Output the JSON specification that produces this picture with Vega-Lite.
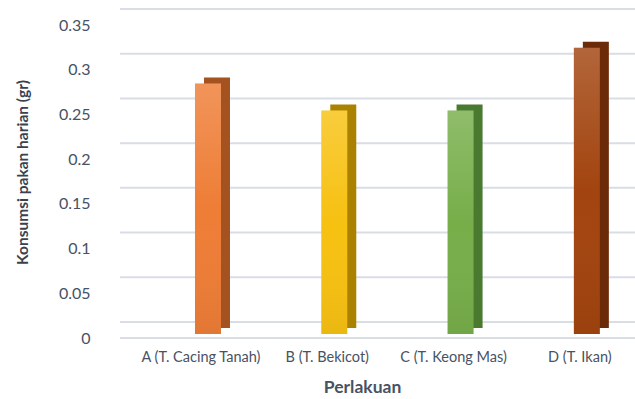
{
  "$schema": "https://vega.github.io/schema/vega-lite/v6.json",
  "width": 515,
  "height": 313,
  "autosize": "none",
  "padding": {"left": 120, "top": 21, "right": 0, "bottom": 65},
  "background": "white",
  "config": {"view": {"stroke": null}, "font": "Lato"},
  "datasets": {
    "bars": [
      {"perlakuan": "A (T. Cacing  Tanah)", "konsumsi": 0.28},
      {"perlakuan": "B (T. Bekicot)", "konsumsi": 0.25},
      {"perlakuan": "C (T. Keong Mas)", "konsumsi": 0.25},
      {"perlakuan": "D (T. Ikan)", "konsumsi": 0.32}
    ],
    "grid": [
      {"v": 0}, {"v": 0.05}, {"v": 0.1}, {"v": 0.15}, {"v": 0.2}, {"v": 0.25}, {"v": 0.3}, {"v": 0.35}
    ]
  },
  "layer": [
    {
      "data": {"name": "grid"},
      "mark": {"type": "rule", "color": "#D9DDE5", "strokeWidth": 2, "yOffset": -12},
      "encoding": {
        "y": {"field": "v", "type": "quantitative", "scale": {"domain": [0, 0.35]}}
      }
    },
    {
      "data": {"name": "grid"},
      "transform": [{"filter": "datum.v == 0"}],
      "mark": {"type": "rule", "color": "#D9DDE5", "strokeWidth": 2, "yOffset": 4},
      "encoding": {
        "y": {"field": "v", "type": "quantitative"}
      }
    },
    {
      "data": {"name": "bars"},
      "mark": {"type": "bar", "width": 26, "xOffset": 16, "yOffset": -6},
      "encoding": {
        "x": {"field": "perlakuan", "type": "nominal", "sort": null,
          "scale": {"paddingInner": 0.5, "paddingOuter": 0.289, "align": 0.677}},
        "y": {"field": "konsumsi", "type": "quantitative"},
        "color": {"field": "perlakuan", "type": "nominal", "legend": null,
          "scale": {"range": ["#A4521F", "#AB8200", "#4A7A30", "#6B2A08"]}}
      }
    },
    {
      "data": {"name": "bars"},
      "mark": {"type": "bar", "width": 26, "xOffset": 7},
      "encoding": {
        "x": {"field": "perlakuan", "type": "nominal", "sort": null,
          "axis": {"title": "Perlakuan", "labelAngle": 0, "labelAlign": "center", "labelBaseline": "top", "ticks": false, "domain": false,
            "labelPadding": 16, "labelFontSize": 14.5, "labelColor": "#475264",
            "titleFontSize": 17.5, "titleFontWeight": "bold", "titleColor": "#475264", "titlePadding": 15, "titleX": 242}},
        "y": {"field": "konsumsi", "type": "quantitative", "scale": {"domain": [0, 0.35]},
          "axis": {"title": "Konsumsi pakan harian (gr)", "values": [0, 0.05, 0.1, 0.15, 0.2, 0.25, 0.3, 0.35],
            "format": "~g", "grid": false, "ticks": false, "domain": false,
            "labelPadding": 30, "labelOffset": 4, "labelFontSize": 16, "labelColor": "#475264",
            "titleFontSize": 15.5, "titleFontWeight": "bold", "titleColor": "#3A4250", "titleX": -90, "titleY": 151}},
        "color": {"field": "perlakuan", "type": "nominal", "legend": null,
          "scale": {"range": ["#EE7D36", "#F7C112", "#77AE4A", "#A2440F"]}}
      }
    },
    {
      "data": {"name": "bars"},
      "mark": {"type": "bar", "width": 26, "xOffset": 7,
        "color": {"gradient": "linear", "x1": 0, "y1": 0, "x2": 0, "y2": 1,
          "stops": [{"offset": 0, "color": "rgba(255,255,255,0.18)"}, {"offset": 0.5, "color": "rgba(255,255,255,0)"}, {"offset": 1, "color": "rgba(0,0,0,0.05)"}]}},
      "encoding": {
        "x": {"field": "perlakuan", "type": "nominal", "sort": null},
        "y": {"field": "konsumsi", "type": "quantitative"}
      }
    }
  ],
  "resolve": {"scale": {"color": "independent"}}
}
